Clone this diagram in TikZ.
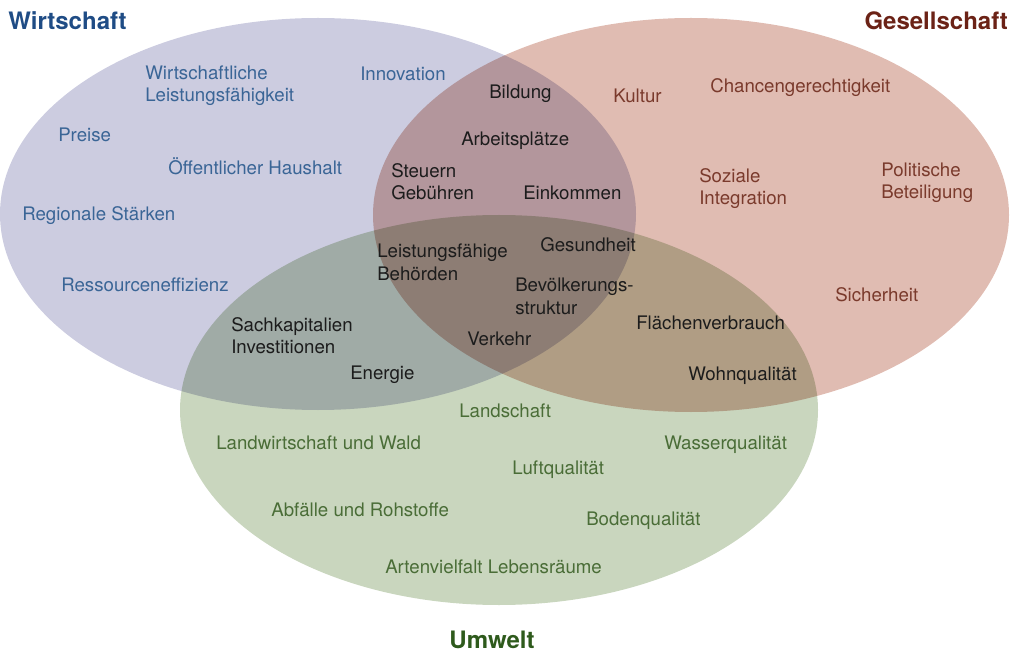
\documentclass[tikz,border=0pt]{standalone}
\usepackage{fontspec}
\setmainfont{TeX Gyre Heros}
\usetikzlibrary{positioning}

\definecolor{wfill}{HTML}{CCCCE0}
\definecolor{gfill}{HTML}{E0BCB2}
\definecolor{ufill}{HTML}{C9D6BE}
\definecolor{wtext}{HTML}{3A6596}
\definecolor{wtitle}{HTML}{1F4C85}
\definecolor{gtext}{HTML}{7A3A2C}
\definecolor{gtitle}{HTML}{6B2216}
\definecolor{utext}{HTML}{4A6D37}
\definecolor{utitle}{HTML}{2E5A1C}
\definecolor{mtext}{HTML}{1C1C1C}

\tikzset{
	lbl/.style={anchor=west, inner sep=0pt, align=left, yshift=-1.2pt, font=\fontsize{14pt}{17pt}\selectfont},
	title/.style={inner sep=0pt, font=\fontsize{18pt}{20pt}\selectfont\bfseries}
}

\begin{document}
\begin{tikzpicture}[x=0.75pt, y=-0.75pt]
			
			\useasboundingbox (0,0) rectangle (1010,652);
			
			% the three sets
			\begin{scope}[blend group=multiply]
				\fill[wfill] (318,214) ellipse [x radius=238.5pt, y radius=147pt];
				\fill[gfill] (691,215) ellipse [x radius=238.5pt, y radius=147.75pt];
				\fill[ufill] (499,410) ellipse [x radius=239.25pt, y radius=146.25pt];
			\end{scope}
			
			\node[title, anchor=west, text=wtitle] (wirtschaft) at (8,21) {Wirtschaft};
			\node[title, anchor=east, text=gtitle] (gesellschaft) at (1008,21) {Gesellschaft};
			\node[title, text=utitle] (umwelt) at (492,640) {Umwelt};
			
			% Wirtschaft only
			\foreach \x/\y/\txt [count=\i] in {
				145/84/{Wirtschaftliche\\Leistungsfähigkeit},
				360/72/{Innovation},
				58/133/{Preise},
				168/165/{Öffentlicher Haushalt},
				22/214/{Regionale Stärken},
				61/283/{Ressourceneffizienz}
			}
			{
				\node[lbl, text=wtext] (w\i) at (\x,\y) {\txt};
			}
			
			% Gesellschaft only
			\foreach \x/\y/\txt [count=\i] in {
				613/94/{Kultur},
				710/86/{Chancengerechtigkeit},
				699/187/{Soziale\\Integration},
				881/181/{Politische\\Beteiligung},
				835/293/{Sicherheit}
			}
			{
				\node[lbl, text=gtext] (g\i) at (\x,\y) {\txt};
			}
			
			% overlaps
			\foreach \x/\y/\txt [count=\i] in {
				489/92/{Bildung},
				461/139/{Arbeitsplätze},
				391/180/{Steuern\\Gebühren},
				523/191/{Einkommen},
				377/261/{Leistungsfähige\\Behörden},
				540/243/{Gesundheit},
				515/295/{Bevölkerungs-\\struktur},
				467/337/{Verkehr},
				231/334/{Sachkapitalien\\Investitionen},
				350/373/{Energie},
				636/321/{Flächenverbrauch},
				688/374/{Wohnqualität}
			}
			{
				\node[lbl, text=mtext] (m\i) at (\x,\y) {\txt};
			}
			
			% Umwelt only
			\foreach \x/\y/\txt [count=\i] in {
				459/409/{Landschaft},
				216/441/{Landwirtschaft und Wald},
				664/443/{Wasserqualität},
				512/468/{Luftqualität},
				271/508/{Abfälle und Rohstoffe},
				586/519/{Bodenqualität},
				385/565/{Artenvielfalt Lebensräume}
			}
			{
				\node[lbl, text=utext] (u\i) at (\x,\y) {\txt};
			}
			
		\end{tikzpicture}
\end{document}
